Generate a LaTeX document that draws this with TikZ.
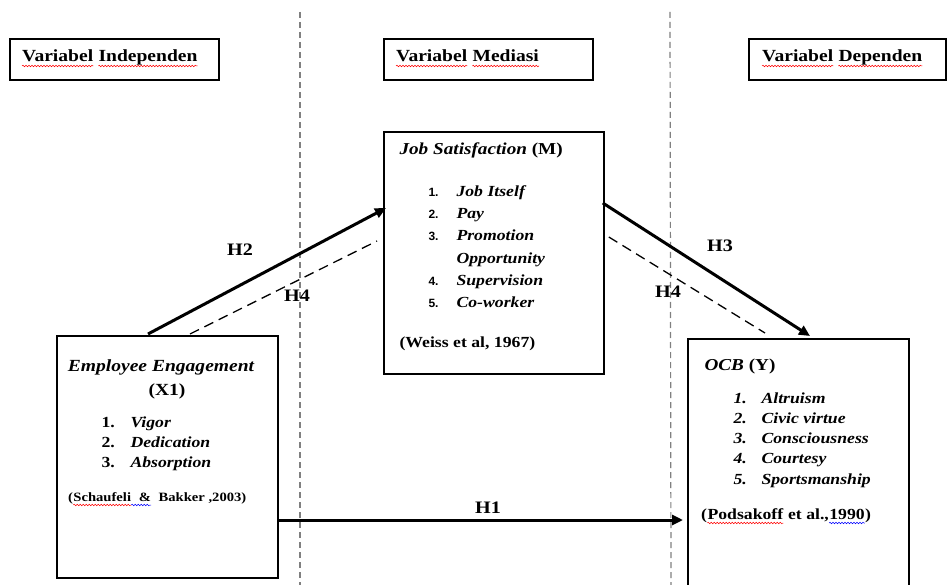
\documentclass[tikz,border=0pt]{standalone}
\usepackage{fontspec}
\setmainfont{Liberation Serif}[FakeStretch=1.15]
\newfontfamily\numsans{Liberation Sans}
\usetikzlibrary{arrows.meta,calc,decorations.pathmorphing}
\begin{document}
\begin{tikzpicture}[x=1pt,y=-1pt,
  hdrbox/.style={draw, line width=2pt, anchor=north west, inner sep=0pt, minimum width=209pt, minimum height=41pt},
  hword/.style={inner sep=0pt, anchor=base west, font=\fontsize{17}{20}\selectfont\bfseries},
  word/.style={inner sep=0pt, anchor=base west},
  bigbox/.style={draw, line width=1.8pt, anchor=north west, inner sep=0pt},
  title/.style={font=\fontsize{16.7}{20}\selectfont\bfseries},
  itm/.style={anchor=base west, font=\fontsize{15.4}{20}\selectfont\bfseries\itshape},
  numb/.style={anchor=base west, font=\fontsize{15.4}{20}\selectfont\bfseries},
  sansnum/.style={anchor=base west, font=\fontsize{12}{14}\selectfont\numsans\bfseries},
  citefont/.style={font=\fontsize{15.4}{20}\selectfont\bfseries},
  smallcite/.style={font=\fontsize{12.7}{15}\selectfont\bfseries},
  hlab/.style={font=\fontsize{17.5}{20}\selectfont\bfseries},
  solidarrow/.style={line width=3pt, -{Triangle[length=11pt,width=10pt]}},
  dashline/.style={line width=1.3pt, dash pattern=on 10pt off 6pt},
  divider/.style={line width=1.2pt, draw=black!50, dash pattern=on 6pt off 4pt},
  wavy/.style={line width=0.5pt, decorate, decoration={snake, amplitude=0.8pt, segment length=3pt}}]
\useasboundingbox (0,0) rectangle (947,585);
\fill[white] (0,0) rectangle (947,585);

% dividers
\coordinate (d1t) at (300,12);
\coordinate (d1b) at (300,585);
\coordinate (d2t) at (670,12);
\coordinate (d2b) at (671,585);
\draw[divider] (d1t) -- (d1b);
\draw[divider] (d2t) -- (d2b);

% headers
\node[hdrbox] (hind) at (9,38) {};
\node[hdrbox] (hmed) at (383,38) {};
\node[hdrbox, minimum width=197pt] (hdep) at (748,38) {};
\node[hword] (hind1) at (22,62) {Variabel};
\node[hword] (hind2) at ($(hind1.base east)+(5,0)$) {Independen};
\node[hword] (hmed1) at (396,62) {Variabel};
\node[hword] (hmed2) at ($(hmed1.base east)+(5,0)$) {Mediasi};
\node[hword] (hdep1) at (762,62) {Variabel};
\node[hword] (hdep2) at ($(hdep1.base east)+(5,0)$) {Dependen};
\foreach \n in {hind1,hind2,hmed1,hmed2,hdep1,hdep2}
  \draw[wavy, red] ($(\n.base west)+(0,4)$) -- ($(\n.base east)+(0,4)$);

% boxes
\node[bigbox, minimum width=221pt, minimum height=242pt] (ee) at (56,335) {};
\node[bigbox, minimum width=220pt, minimum height=242pt] (js) at (383,131) {};
\node[bigbox, minimum width=221pt, minimum height=262pt] (ocb) at (687,338) {};

% left box text
\node[anchor=base, font=\fontsize{17}{20}\selectfont\bfseries\itshape] (eet) at (161,371) {Employee Engagement};
\node[anchor=base, font=\fontsize{17}{20}\selectfont\bfseries] (eex) at (167,395) {(X1)};
\foreach \t [count=\i] in {Vigor,Dedication,Absorption} {
  \node[numb] (een\i) at (98,407+20*\i) {\i.};
  \node[itm] (eei\i) at (127,407+20*\i) {\t};
}
\node[word, smallcite] (eec1) at (68,501) {(};
\node[word, smallcite] (eec2) at (eec1.base east) {Schaufeli};
\node[word, smallcite] (eec3) at (eec2.base east) {\ \ \&};
\node[word, smallcite] (eec4) at (eec3.base east) {\ \ Bakker ,2003)};
\draw[wavy, red] ($(eec2.base west)+(0,4)$) -- ($(eec2.base east)+(0,4)$);
\draw[wavy, blue] ($(eec3.base west)+(0,4)$) -- ($(eec3.base east)+(0,4)$);

% middle box text
\node[title, anchor=base west] (jst) at (396,155) {\textit{Job Satisfaction} (M)};
\node[sansnum] (jsn1) at (425,197) {1.};
\node[itm] (jsi1) at (453,197) {Job Itself};
\node[sansnum] (jsn2) at (425,219) {2.};
\node[itm] (jsi2) at (453,219) {Pay};
\node[sansnum] (jsn3) at (425,241) {3.};
\node[itm] (jsi3) at (453,241) {Promotion};
\node[itm] (jsi3b) at (453,263) {Opportunity};
\node[sansnum] (jsn4) at (425,285) {4.};
\node[itm] (jsi4) at (453,285) {Supervision};
\node[sansnum] (jsn5) at (425,307) {5.};
\node[itm] (jsi5) at (453,307) {Co-worker};
\node[citefont, anchor=base west] (jsc) at (396,347) {(Weiss et al, 1967)};

% right box text
\node[title, anchor=base west] (ocbt) at (701,370) {\textit{OCB} (Y)};
\foreach \t [count=\i] in {Altruism,Civic virtue,Consciousness,Courtesy,Sportsmanship} {
  \node[itm] (ocbn\i) at (730,382.7+20.3*\i) {\i.};
  \node[itm] (ocbi\i) at (758,382.7+20.3*\i) {\t};
}
\node[word, citefont] (ocbc1) at (701,519) {(};
\node[word, citefont] (ocbc2) at (ocbc1.base east) {Podsakoff};
\node[word, citefont] (ocbc3) at (ocbc2.base east) {\ et al.,};
\node[word, citefont] (ocbc4) at (ocbc3.base east) {1990};
\node[word, citefont] (ocbc5) at (ocbc4.base east) {)};
\draw[wavy, red] ($(ocbc2.base west)+(0,4)$) -- ($(ocbc2.base east)+(0,4)$);
\draw[wavy, blue] ($(ocbc4.base west)+(0,4)$) -- ($(ocbc4.base east)+(0,4)$);

% connectors
\draw[solidarrow] ($(ee.north west)+(92,-1)$) -- ($(js.north west)+(3,77)$);
\draw[dashline] ($(ee.north west)+(134,-1)$) -- ($(js.north west)+(-6,110)$);
\draw[solidarrow] ($(js.north east)+(-2,72)$) -- ($(ocb.north west)+(123,-2)$);
\draw[dashline] ($(js.north east)+(4,106)$) -- ($(ocb.north west)+(78,-5)$);
\draw[solidarrow] ($(ee.north east)+(0,185)$) -- ($(ocb.north west)+(-4,182)$);

% labels
\node[hlab] (lh2) at (240,250) {H2};
\node[hlab] (lh4a) at (297,296) {H4};
\node[hlab] (lh3) at (720,246) {H3};
\node[hlab] (lh4b) at (668,292) {H4};
\node[hlab] (lh1) at (488,508) {H1};
\end{tikzpicture}
\end{document}
